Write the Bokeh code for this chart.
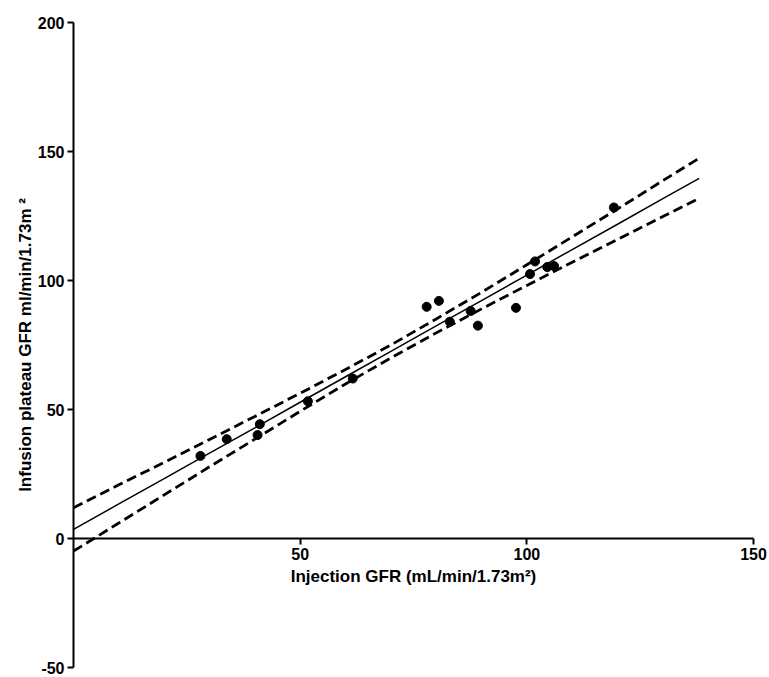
from bokeh.plotting import figure
from bokeh.models import Range1d, FixedTicker
from bokeh.embed import file_html
from bokeh.resources import INLINE

# data
inj_gfr = [28.0, 33.8, 40.6, 41.1, 51.7, 61.6, 77.9, 80.6, 83.0, 87.6, 89.2, 97.6, 100.7, 101.8, 104.5, 106.0, 119.2]
inf_gfr = [32.0, 38.5, 40.1, 44.3, 53.2, 62.0, 89.8, 92.1, 84.0, 88.2, 82.5, 89.4, 102.5, 107.4, 105.2, 105.6, 128.3]

fit_x = [0, 10, 20, 30, 40, 50, 60, 70, 80, 90, 100, 110, 120, 130, 138]
fit_y = [3.5, 13.4, 23.2, 33.1, 42.9, 52.8, 62.7, 72.5, 82.4, 92.2, 102.1, 112.0, 121.8, 131.7, 139.6]
band_upper = [11.9, 20.8, 29.5, 38.4, 47.3, 56.3, 65.5, 75.0, 85.1, 95.4, 106.1, 116.9, 127.7, 138.7, 147.4]
band_lower = [-4.9, 6.0, 16.9, 27.8, 38.5, 49.3, 59.9, 70.0, 79.7, 89.0, 98.1, 107.1, 115.9, 124.8, 131.8]

x_ticks = [50, 100, 150]
y_ticks = [-50, 0, 50, 100, 150, 200]

p = figure(width=768, height=677, output_backend="svg", toolbar_location=None,
           x_range=Range1d(0, 153.3), y_range=Range1d(-50, 200),
           min_border_left=73, min_border_right=0, min_border_top=22, min_border_bottom=10)
p.outline_line_color = None
p.grid.visible = False
p.background_fill_color = "white"

p.line(fit_x, fit_y, line_color="black", line_width=1.5)
p.line(fit_x, band_upper, line_color="black", line_width=2.8, line_dash="10 5")
p.line(fit_x, band_lower, line_color="black", line_width=2.8, line_dash="10 5")
p.scatter(inj_gfr, inf_gfr, size=9, color="black")

font = "Liberation Sans"
for ax in (p.xaxis[0], p.yaxis[0]):
    ax.axis_line_width = 2
    ax.axis_line_color = "black"
    ax.major_tick_line_width = 2
    ax.major_tick_line_color = "black"
    ax.major_tick_out = 6
    ax.major_tick_in = 0
    ax.minor_tick_line_color = None
    ax.major_label_text_font = font
    ax.major_label_text_font_style = "bold"
    ax.major_label_text_font_size = "16px"
    ax.major_label_text_color = "black"
    ax.axis_label_text_font = font
    ax.axis_label_text_font_style = "bold"
    ax.axis_label_text_font_size = "17px"
    ax.axis_label_text_color = "black"

p.xaxis[0].ticker = FixedTicker(ticks=x_ticks)
p.xaxis[0].bounds = (0, 150)
p.yaxis[0].ticker = FixedTicker(ticks=y_ticks)
p.yaxis[0].major_label_overrides = {-50: "-50"}
p.xaxis[0].fixed_location = 0
p.xaxis[0].axis_label = "Injection GFR (mL/min/1.73m²)"
p.xaxis[0].axis_label_standoff = 4
p.xaxis[0].major_label_standoff = 3
p.yaxis[0].axis_label = "Infusion plateau GFR ml/min/1.73m ²"
p.yaxis[0].axis_label_standoff = 0
p.yaxis[0].major_label_standoff = 3

open("out.html", "w").write(file_html(p, INLINE))
